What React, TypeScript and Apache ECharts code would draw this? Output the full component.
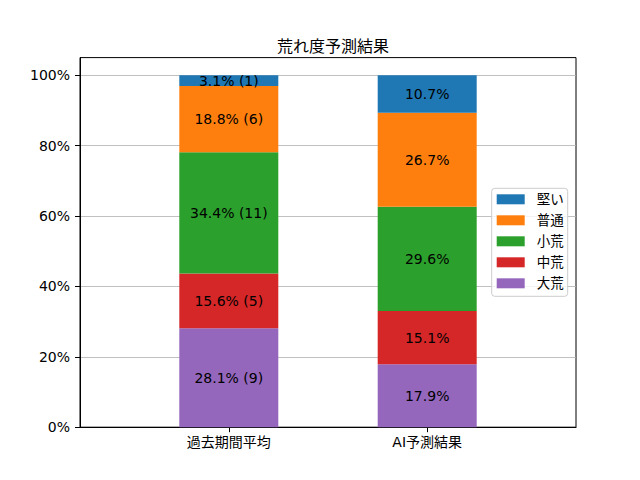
import React, { useEffect, useRef } from "react";
import * as echarts from "echarts";

const categories = ["過去期間平均", "AI予測結果"];
const seriesNames = ["大荒", "中荒", "小荒", "普通", "堅い"];
const seriesColors = ["#9467bd", "#d62728", "#2ca02c", "#ff7f0e", "#1f77b4"];
const pastPct = [28.1, 15.6, 34.4, 18.8, 3.1];
const pastCount = [9, 5, 11, 6, 1];
const aiPct = [17.9, 15.1, 29.6, 26.7, 10.7];
const legendOrder = ["堅い", "普通", "小荒", "中荒", "大荒"];
const yTicks = [0, 20, 40, 60, 80, 100];

const FONT = '"DejaVu Sans", "Noto Sans CJK JP", sans-serif';

// slots: blank, past, blank, ai, blank (positions the bars like the reference's x-limits)
const slots = ["", categories[0], "", categories[1], ""];

export default function App() {
  const ref = useRef<HTMLDivElement>(null);
  useEffect(() => {
    if (!ref.current) return;
    const chart = echarts.init(ref.current, null, { renderer: "svg" });
    const series = seriesNames.map((name, i) => ({
      name,
      type: "bar",
      stack: "total",
      barWidth: 99,
      itemStyle: { color: seriesColors[i] },
      label: {
        show: true,
        position: "inside",
        color: "#000",
        fontSize: 14,
        fontFamily: FONT,
        formatter: (p: any) =>
          p.dataIndex === 1
            ? `${pastPct[i].toFixed(1)}% (${pastCount[i]})`
            : `${aiPct[i].toFixed(1)}%`,
      },
      data: ["-", pastPct[i], "-", aiPct[i], "-"],
    }));
    chart.setOption({
      animation: false,
      backgroundColor: "#fff",
      textStyle: { fontFamily: FONT },
      title: {
        text: "荒れ度予測結果",
        left: 328,
        textAlign: "center",
        top: 33,
        textStyle: { fontSize: 16, fontWeight: "normal", color: "#000", fontFamily: FONT },
      },
      grid: {
        left: 80,
        top: 57.6,
        width: 496,
        height: 369.6,
        show: true,
        borderColor: "#000",
        borderWidth: 1,
        backgroundColor: "transparent",
      },
      legend: {
        data: legendOrder,
        orient: "vertical",
        left: 491.7,
        top: 188.3,
        icon: "rect",
        itemWidth: 28,
        itemHeight: 10,
        itemGap: 7,
        padding: [4, 4, 6, 5],
        backgroundColor: "rgba(255,255,255,0.8)",
        borderColor: "#cccccc",
        borderWidth: 1,
        borderRadius: 3,
        textStyle: {
          fontSize: 13.5,
          lineHeight: 14,
          color: "#000",
          fontFamily: FONT,
          padding: [0, 0, 0, 7],
        },
      },
      xAxis: {
        type: "category",
        data: slots,
        boundaryGap: true,
        splitLine: { show: false },
        axisLine: { show: true, onZero: false, lineStyle: { color: "#000", width: 1 } },
        axisTick: {
          show: true,
          length: 5,
          alignWithLabel: true,
          interval: (idx: number) => idx === 1 || idx === 3,
          lineStyle: { color: "#000" },
        },
        axisLabel: {
          interval: (idx: number) => idx === 1 || idx === 3,
          color: "#000",
          fontSize: 14,
          margin: 8,
          fontFamily: FONT,
        },
      },
      yAxis: {
        type: "value",
        min: 0,
        max: 105,
        axisLine: { show: true, onZero: false, lineStyle: { color: "#000", width: 1 } },
        axisTick: { show: true, length: 5, lineStyle: { color: "#000" }, customValues: yTicks },
        axisLabel: {
          customValues: yTicks,
          color: "#000",
          fontSize: 14,
          margin: 10,
          fontFamily: FONT,
          formatter: (v: number) => `${v}%`,
        },
        splitLine: { show: true, lineStyle: { color: "#b0b0b0", width: 0.8 } },
      },
      series,
    });
    return () => chart.dispose();
  }, []);
  return (
    <div
      ref={ref}
      style={{ position: "fixed", left: 0, top: 0, width: 640, height: 480 }}
    />
  );
}
